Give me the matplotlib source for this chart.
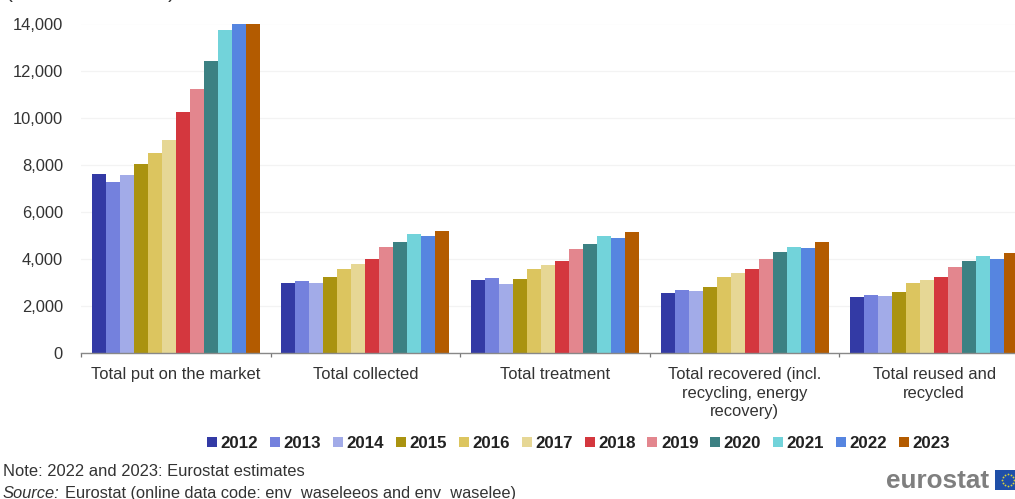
import matplotlib
matplotlib.use("Agg")
import matplotlib.pyplot as plt
import numpy as np
from matplotlib.patches import Rectangle
from matplotlib.lines import Line2D

plt.rcParams['font.family'] = ['Liberation Sans', 'DejaVu Sans']

W, H = 1015, 499
years = ['2012','2013','2014','2015','2016','2017','2018','2019','2020','2021','2022','2023']
categories = ['Total put on the market', 'Total collected', 'Total treatment',
              'Total recovered (incl.\nrecycling, energy\nrecovery)', 'Total reused and\nrecycled']
put_on_market = [7620, 7260, 7550, 8040, 8500, 9060, 10260, 11200, 12390, 13740, 14000, 14000]
collected = [2980, 3040, 2970, 3230, 3580, 3770, 3990, 4500, 4700, 5050, 4980, 5200]
treatment = [3100, 3180, 2930, 3150, 3580, 3760, 3930, 4430, 4650, 4960, 4880, 5150]
recovered = [2565, 2690, 2620, 2805, 3245, 3400, 3555, 3980, 4280, 4520, 4450, 4730]
reused = [2380, 2480, 2410, 2580, 2975, 3120, 3230, 3640, 3900, 4110, 4000, 4250]
colors = ['#333aa5', '#7481dd', '#a2abe8', '#aa9310', '#dcc55f', '#e6d795',
          '#d4373e', '#e3868e', '#3c8183', '#72d3da', '#5685e0', '#b35b00']
yticks = [0, 2000, 4000, 6000, 8000, 10000, 12000, 14000]

series = np.array([put_on_market, collected, treatment, recovered, reused])

fig = plt.figure(figsize=(W/100, H/100), dpi=100)
x0, x1, ytop, ybot = 81, 1029, 23.5, 353
ax = fig.add_axes([x0/W, 1-ybot/H, (x1-x0)/W, (ybot-ytop)/H])
bw = 14.0/(x1-x0)*5
for j, (yr, c) in enumerate(zip(years, colors)):
    xs = np.arange(5) + 0.5 + (j-5.5)*bw
    ax.bar(xs, series[:, j], width=bw, color=c, zorder=3, label=yr, linewidth=0)
ax.set_xlim(0, 5)
ax.set_ylim(0, 14000)
ax.set_yticks(yticks)
ax.set_yticklabels([f'{v:,}' for v in yticks], fontsize=11.9, color='#333333')
ax.tick_params(axis='y', length=0, pad=13)
ax.set_xticks(range(0, 6))
ax.set_xticklabels([])
ax.tick_params(axis='x', length=3, width=0.9, color='#777777', direction='out')
for i, c in enumerate(categories):
    ax.annotate(c, (i+0.5, 0), xytext=(0, -10), xycoords=('data', 'data'), textcoords='offset points',
                ha='center', va='top', fontsize=11.9, color='#333333', linespacing=1.31, annotation_clip=False)
ax.grid(axis='y', color='#f3f3f3', linewidth=0.9, zorder=0)
for s in ['top', 'right', 'left']:
    ax.spines[s].set_visible(False)
ax.spines['bottom'].set_color('#888888')
ax.spines['bottom'].set_linewidth(1.0)
ax.spines['bottom'].set_zorder(5)

handles = [Line2D([], [], marker='s', linestyle='none', markersize=6.5, color=c, markeredgewidth=0) for c in colors]
fig.legend(handles, years, ncol=12, loc='center', bbox_to_anchor=(578.5/W, 1-443.5/H), frameon=False,
           prop={'size': 12.2, 'weight': 'bold'}, labelcolor='#222222', handletextpad=0.2,
           columnspacing=0.70, handlelength=0.6, borderpad=0, borderaxespad=0)

fig.text(3/W, 1-471/H, 'Note: 2022 and 2023: Eurostat estimates', fontsize=11.85, color='#333333', va='center')
fig.text(3/W, 1-493/H, 'Source:', fontsize=11.85, color='#333333', va='center', style='italic')
fig.text(65/W, 1-493/H, 'Eurostat (online data code: env_waseleeos and env_waselee)', fontsize=11.8, color='#333333', va='center')
fig.text(6/W, 1-(-8)/H, '(thousand tonnes)', fontsize=15, color='#333333', va='center')

fig.text(886/W, 1-481/H, 'eurostat', fontsize=18.8, weight='bold', color='#7f7f7f', va='center')
fig.add_artist(Rectangle((995/W, 1-489.5/H), 20/W, 19.5/H, transform=fig.transFigure, color='#1f4fa8', lw=0))
ang = np.linspace(0, 2*np.pi, 12, endpoint=False)
fig.add_artist(Line2D((1008 + 6*np.cos(ang))/W, 1-(480 + 6*np.sin(ang))/H, transform=fig.transFigure,
                      linestyle='none', marker='o', markersize=1.3, color='#d8d23a', markeredgewidth=0))

fig.savefig('out.png', dpi=100)
